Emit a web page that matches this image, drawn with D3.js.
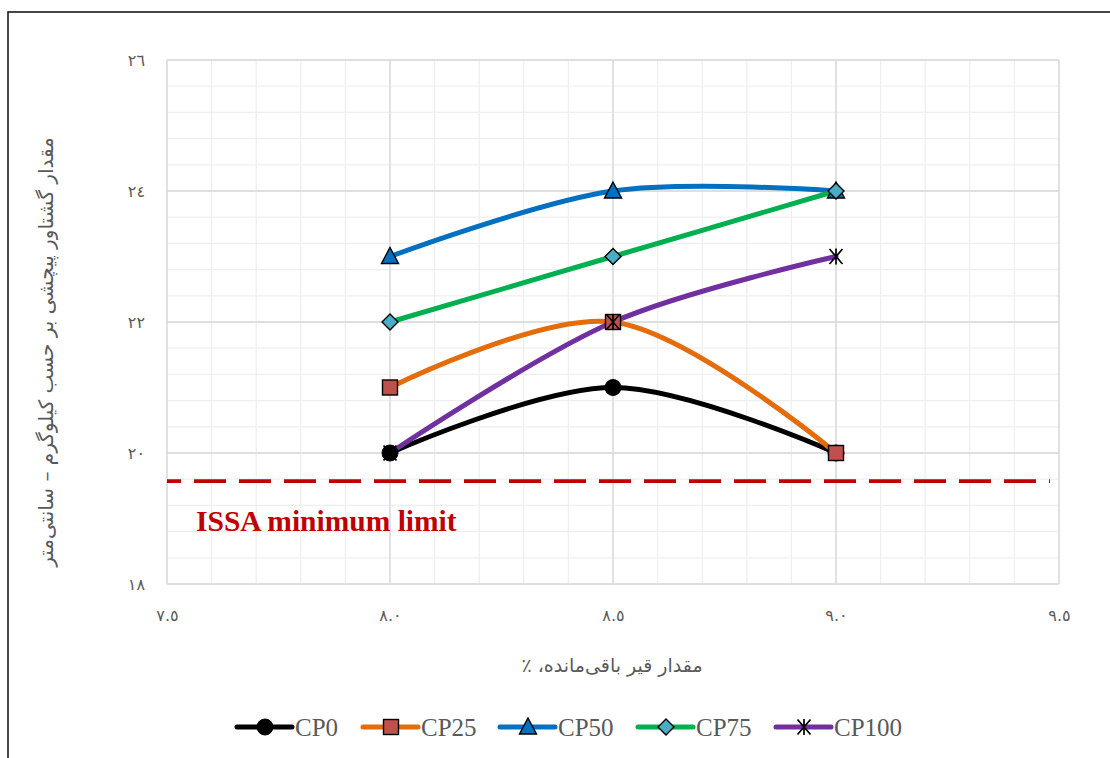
<!DOCTYPE html>
<html>
<head>
<meta charset="utf-8">
<script src="https://cdn.jsdelivr.net/npm/d3@7"></script>
<style>
  html, body { margin: 0; padding: 0; background: #fff; }
  svg { display: block; }
</style>
</head>
<body>
<svg id="chart" width="1110" height="758"></svg>
<script>
// Residual bitumen content (%) on the x axis
const binderContent = [8.0, 8.5, 9.0];

// Torque values (kg·cm) per mix
const seriesNames = ["CP0", "CP25", "CP50", "CP75", "CP100"];
const cp0   = [20, 21, 20];
const cp25  = [21, 22, 20];
const cp50  = [23, 24, 24];
const cp75  = [22, 23, 24];
const cp100 = [20, 22, 23];

// ISSA minimum torque
const issaLimit = 19.57;
const issaLabel = "ISSA minimum limit";

const xTicks = [7.5, 8.0, 8.5, 9.0, 9.5];
const xTickLabels = ["٧.٥", "٨.٠", "٨.٥", "٩.٠", "٩.٥"];
const yTicks = [18, 20, 22, 24, 26];
const yTickLabels = ["١٨", "٢٠", "٢٢", "٢٤", "٢٦"];

const xTitle = "مقدار قیر باقی‌مانده، ٪";
const yTitle = "مقدار گشتاور پیچشی بر حسب کیلوگرم – سانتی‌متر";

const seriesValues = [cp0, cp25, cp50, cp75, cp100];
const styles = [
  { line: "#000000", marker: "circle",   fill: "#000000" },
  { line: "#E46C0A", marker: "square",   fill: "#C0504D" },
  { line: "#0070C0", marker: "triangle", fill: "#0070C0" },
  { line: "#00B050", marker: "diamond",  fill: "#4BACC6" },
  { line: "#7030A0", marker: "star",     fill: "none" }
];

const svg = d3.select("#chart");
const plotL = 167, plotR = 1059, plotT = 60, plotB = 584;

const x = d3.scaleLinear().domain([7.5, 9.5]).range([plotL, plotR]);
const y = d3.scaleLinear().domain([18, 26]).range([plotB, plotT]);

// outer frame
svg.append("rect")
  .attr("x", 8).attr("y", 12).attr("width", 1120).attr("height", 770)
  .attr("fill", "none").attr("stroke", "#1a1a1a").attr("stroke-width", 1.6);

// minor grid
const g = svg.append("g");
g.selectAll("line.xminor").data(d3.range(7.5, 9.5001, 0.1))
  .join("line")
  .attr("x1", d => x(d)).attr("x2", d => x(d))
  .attr("y1", plotT).attr("y2", plotB)
  .attr("stroke", "#EFEFEF").attr("stroke-width", 1.3);
g.selectAll("line.yminor").data(d3.range(18, 26.001, 0.4))
  .join("line")
  .attr("y1", d => y(d)).attr("y2", d => y(d))
  .attr("x1", plotL).attr("x2", plotR)
  .attr("stroke", "#EFEFEF").attr("stroke-width", 1.3);

// major grid
const gm = svg.append("g");
gm.selectAll("line.xmajor").data(xTicks)
  .join("line")
  .attr("x1", d => x(d)).attr("x2", d => x(d))
  .attr("y1", plotT).attr("y2", plotB)
  .attr("stroke", "#D9D9D9").attr("stroke-width", 1.4);
gm.selectAll("line.ymajor").data(yTicks)
  .join("line")
  .attr("y1", d => y(d)).attr("y2", d => y(d))
  .attr("x1", plotL).attr("x2", plotR)
  .attr("stroke", "#D9D9D9").attr("stroke-width", 1.4);

// axes (labels only)
const arFont = "'DejaVu Sans', sans-serif";
const xAxis = d3.axisBottom(x).tickValues(xTicks)
  .tickFormat((d, i) => xTickLabels[i]).tickSize(0).tickPadding(26);
svg.append("g").attr("transform", `translate(0,${plotB})`).call(xAxis)
  .call(a => a.select(".domain").remove())
  .selectAll("text").attr("font-size", 16).attr("fill", "#595959")
  .attr("font-family", arFont);

const yAxis = d3.axisLeft(y).tickValues(yTicks)
  .tickFormat((d, i) => yTickLabels[i]).tickSize(0).tickPadding(22);
svg.append("g").attr("transform", `translate(${plotL},0)`).call(yAxis)
  .call(a => a.select(".domain").remove())
  .selectAll("text").attr("font-size", 16).attr("fill", "#595959")
  .attr("font-family", arFont);

// axis titles
svg.append("text")
  .attr("x", 612).attr("y", 672)
  .attr("text-anchor", "middle").attr("direction", "rtl")
  .attr("font-family", arFont).attr("font-size", 19)
  .attr("fill", "#595959").text(xTitle);

svg.append("text")
  .attr("transform", `translate(53,352) rotate(-90)`)
  .attr("text-anchor", "middle").attr("direction", "rtl")
  .attr("font-family", arFont).attr("font-size", 20)
  .attr("fill", "#595959").text(yTitle);

// ISSA limit
svg.append("line")
  .attr("x1", x(7.5)).attr("x2", 1050)
  .attr("y1", y(issaLimit)).attr("y2", y(issaLimit))
  .attr("stroke", "#C00000").attr("stroke-width", 3.7)
  .attr("stroke-dasharray", "32,13")
  .attr("stroke-dashoffset", 18);
svg.append("text")
  .attr("x", 196).attr("y", 531)
  .attr("font-family", "'Liberation Serif', 'Times New Roman', serif")
  .attr("font-weight", "bold").attr("font-size", 29.5)
  .attr("fill", "#C00000").text(issaLabel);

// series lines
const line = d3.line()
  .x((d, i) => x(binderContent[i]))
  .y(d => y(d))
  .curve(d3.curveCatmullRom.alpha(0.5));

svg.append("g").selectAll("path").data(seriesValues)
  .join("path")
  .attr("d", d => line(d))
  .attr("fill", "none")
  .attr("stroke", (d, i) => styles[i].line)
  .attr("stroke-width", 5)
  .attr("stroke-linecap", "round");

function drawMarker(sel, type, fill, cx, cy) {
  if (type === "circle") {
    sel.append("circle").attr("cx", cx).attr("cy", cy).attr("r", 8)
      .attr("fill", fill).attr("stroke", "#000").attr("stroke-width", 1);
  } else if (type === "square") {
    sel.append("rect").attr("x", cx - 7.5).attr("y", cy - 7.5)
      .attr("width", 15).attr("height", 15)
      .attr("fill", fill).attr("stroke", "#000").attr("stroke-width", 1.4);
  } else if (type === "triangle") {
    sel.append("path")
      .attr("d", `M${cx},${cy - 9}L${cx + 8.5},${cy + 7}L${cx - 8.5},${cy + 7}Z`)
      .attr("fill", fill).attr("stroke", "#000").attr("stroke-width", 1.4);
  } else if (type === "diamond") {
    sel.append("path")
      .attr("d", `M${cx},${cy - 8}L${cx + 8},${cy}L${cx},${cy + 8}L${cx - 8},${cy}Z`)
      .attr("fill", fill).attr("stroke", "#000").attr("stroke-width", 1.4);
  } else if (type === "star") {
    sel.append("path")
      .attr("d", `M${cx - 6.5},${cy - 7.5}L${cx + 6.5},${cy + 7.5}M${cx + 6.5},${cy - 7.5}L${cx - 6.5},${cy + 7.5}M${cx},${cy - 8}L${cx},${cy + 8}`)
      .attr("fill", "none").attr("stroke", "#000").attr("stroke-width", 1.7);
  }
}

// markers
const mk = svg.append("g");
seriesValues.forEach((vals, s) => {
  vals.forEach((v, i) => {
    drawMarker(mk, styles[s].marker, styles[s].fill, x(binderContent[i]), y(v));
  });
});

// legend
const legendX = [237, 363, 500, 638, 776];
const legY = 727;
const lg = svg.append("g");
seriesNames.forEach((name, s) => {
  const lx = legendX[s];
  lg.append("line").attr("x1", lx).attr("x2", lx + 55)
    .attr("y1", legY).attr("y2", legY)
    .attr("stroke", styles[s].line).attr("stroke-width", 5)
    .attr("stroke-linecap", "round");
  drawMarker(lg, styles[s].marker, styles[s].fill, lx + 28, legY);
  lg.append("text").attr("x", lx + 58).attr("y", legY + 9)
    .attr("font-family", "'Liberation Serif', 'Times New Roman', serif")
    .attr("font-size", 25).attr("fill", "#595959").text(name);
});
</script>
</body>
</html>
